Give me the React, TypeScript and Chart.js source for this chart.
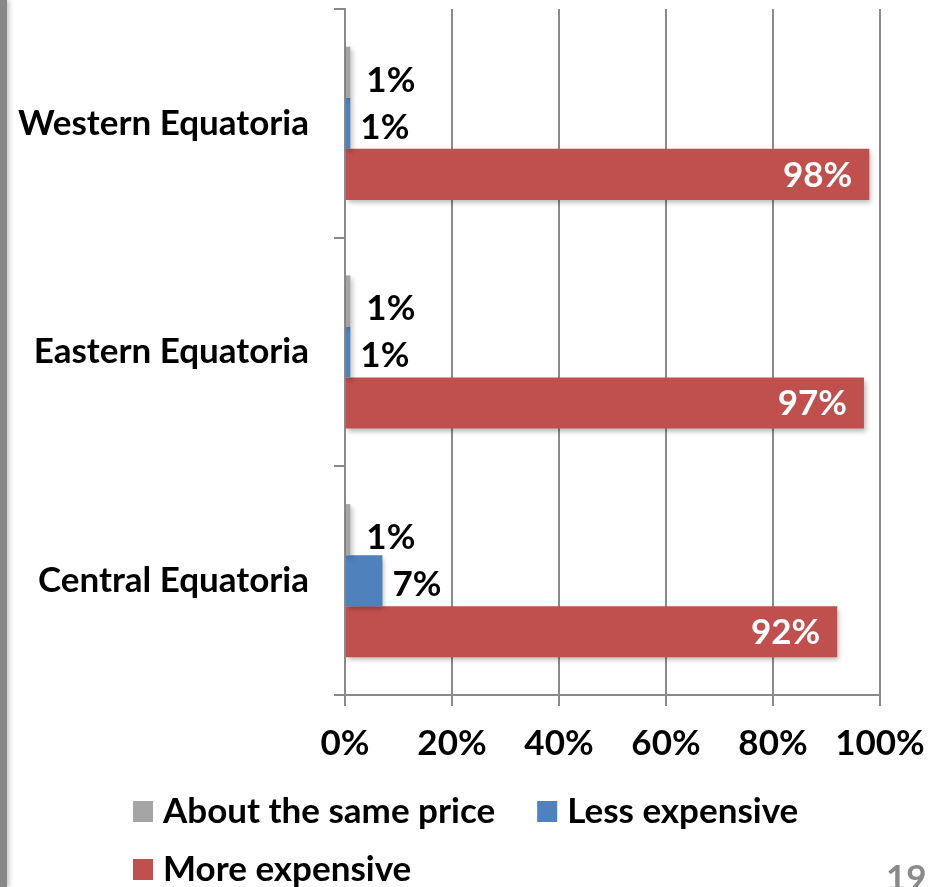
import React, { useEffect, useRef } from 'react';
import { Chart, registerables } from 'chart.js';

Chart.register(...registerables);

const categories = ['Western Equatoria', 'Eastern Equatoria', 'Central Equatoria'];
const seriesNames = ['About the same price', 'Less expensive', 'More expensive'];
const sameValues = [1, 1, 1];
const lessValues = [1, 1, 7];
const moreValues = [98, 97, 92];
const xTickValues = [0, 20, 40, 60, 80, 100];
const seriesColors = ['#a5a5a5', '#4f81bd', '#c0504d'];

const FONT_FAMILY = 'Lato, "Open Sans", sans-serif';
const FONT_SIZE = 35;
const GRID = '#8a8a8a';

const shadowPlugin = {
  id: 'barShadow',
  beforeDatasetsDraw(chart: any) {
    const ctx = chart.ctx;
    ctx.save();
    ctx.shadowColor = 'rgba(0,0,0,0.28)';
    ctx.shadowBlur = 5;
    ctx.shadowOffsetX = 2;
    ctx.shadowOffsetY = 3;
  },
  afterDatasetsDraw(chart: any) {
    chart.ctx.restore();
  },
};

const labelPlugin = {
  id: 'barLabels',
  afterDatasetsDraw(chart: any) {
    const ctx = chart.ctx;
    ctx.save();
    ctx.font = `bold ${FONT_SIZE}px ${FONT_FAMILY}`;
    ctx.textBaseline = 'middle';
    chart.data.datasets.forEach((ds: any, di: number) => {
      const meta = chart.getDatasetMeta(di);
      meta.data.forEach((el: any, i: number) => {
        const txt = ds.data[i] + '%';
        if (di === 2) {
          ctx.fillStyle = '#ffffff';
          ctx.textAlign = 'right';
          ctx.fillText(txt, el.x - 17, el.y + 1);
        } else {
          ctx.fillStyle = '#000000';
          ctx.textAlign = 'left';
          const dx = di === 0 ? 16 : 10;
          const dy = di === 0 ? 8 : 4;
          ctx.fillText(txt, el.x + dx, el.y + dy);
        }
      });
    });
    ctx.restore();
  },
};

const legendPlugin = {
  id: 'customLegend',
  afterDraw(chart: any) {
    const ctx = chart.ctx;
    ctx.save();
    ctx.font = `bold ${FONT_SIZE}px ${FONT_FAMILY}`;
    ctx.textBaseline = 'middle';
    ctx.textAlign = 'left';
    const startX = 133;
    const maxX = 900;
    const box = 20;
    const gapText = 10;
    const gapItem = 42;
    let x = startX;
    let y = 811;
    chart.data.datasets.forEach((ds: any) => {
      const w = box + gapText + ctx.measureText(ds.label).width;
      if (x + w > maxX && x > startX) {
        x = startX;
        y += 58;
      }
      ctx.fillStyle = ds.backgroundColor;
      ctx.fillRect(x, y - 10, box, 21);
      ctx.fillStyle = '#000000';
      ctx.fillText(ds.label, x + box + gapText, y + 1);
      x += w + gapItem;
    });
    ctx.restore();
  },
};

export default function App() {
  const ref = useRef<HTMLCanvasElement | null>(null);
  useEffect(() => {
    if (!ref.current) return;
    const chart = new Chart(ref.current, {
      type: 'bar',
      data: {
        labels: categories,
        datasets: [
          { label: seriesNames[0], data: sameValues, backgroundColor: seriesColors[0] },
          { label: seriesNames[1], data: lessValues, backgroundColor: seriesColors[1] },
          { label: seriesNames[2], data: moreValues, backgroundColor: seriesColors[2] },
        ],
      },
      options: {
        indexAxis: 'y',
        animation: false,
        responsive: false,
        devicePixelRatio: 1,
        layout: { padding: { top: 9, right: 49, bottom: 112, left: 0 } },
        datasets: { bar: { categoryPercentage: 0.67, barPercentage: 1.0 } },
        plugins: { legend: { display: false }, tooltip: { enabled: false } },
        scales: {
          x: {
            min: 0,
            max: 100,
            afterBuildTicks(scale: any) {
              scale.ticks = xTickValues.map((v) => ({ value: v }));
            },
            afterFit(scale: any) {
              scale.height = 80;
              scale.paddingLeft = 0;
              scale.paddingRight = 0;
            },
            grid: { color: GRID, lineWidth: 2, tickLength: 11, drawTicks: true },
            border: { display: true, color: GRID, width: 2 },
            ticks: {
              padding: 17,
              color: '#000000',
              font: { family: FONT_FAMILY, size: FONT_SIZE, weight: 'bold' },
              callback: (v: any) => v + '%',
            },
          },
          y: {
            afterFit(scale: any) {
              scale.width = 345;
              scale.paddingTop = 0;
              scale.paddingBottom = 0;
            },
            grid: { drawOnChartArea: false, drawTicks: true, tickLength: 11, color: GRID, lineWidth: 2, offset: true },
            border: { display: true, color: GRID, width: 2 },
            ticks: {
              padding: 25,
              color: '#000000',
              font: { family: FONT_FAMILY, size: FONT_SIZE, weight: 'bold' },
            },
          },
        },
      },
      plugins: [shadowPlugin, labelPlugin, legendPlugin],
    } as any);
    return () => chart.destroy();
  }, []);

  return (
    <div style={{ position: 'fixed', left: 0, top: 0, width: 929, height: 887, background: '#ffffff', overflow: 'hidden' }}>
      <div
        style={{
          position: 'absolute',
          left: 0,
          top: 0,
          width: 7,
          height: 887,
          background: '#878787',
          boxShadow: '2px 0 5px rgba(0,0,0,0.25)',
        }}
      />
      <canvas ref={ref} width={929} height={887} style={{ position: 'absolute', left: 0, top: 0 }} />
      <div
        style={{
          position: 'absolute',
          left: 886,
          top: 856,
          fontFamily: FONT_FAMILY,
          fontWeight: 'bold',
          fontSize: 35,
          color: '#8a8a8a',
          lineHeight: '40px',
          whiteSpace: 'nowrap',
        }}
      >
        19
      </div>
    </div>
  );
}
